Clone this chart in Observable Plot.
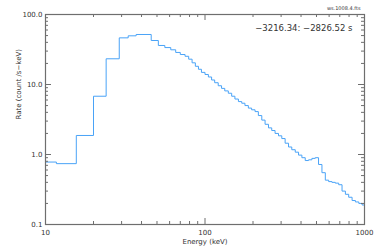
<!DOCTYPE html>
<html><head><meta charset="utf-8">
<script src="https://cdn.jsdelivr.net/npm/d3@7"></script>
<script src="https://cdn.jsdelivr.net/npm/@observablehq/plot@0.6"></script>
<style>body{margin:0;background:#fff}</style>
</head><body><div id="chart"></div>
<script>
// Bin lower edges (keV) and count rates (count /s-keV)
const energyLo = [10, 10, 11.7, 15.6, 20, 24, 29, 33, 37, 46, 51, 56, 61, 65.5, 70,
  75, 79, 83, 87, 91, 95, 100, 105, 110, 115, 121, 127, 133, 140, 147, 154, 162, 170, 178, 187, 196,
  206, 216, 227, 238, 250, 262, 275, 289, 303, 318, 334, 350, 368, 386, 405, 425, 446, 468, 491, 515,
  541, 568, 596, 625, 656, 689, 723, 759, 796, 836, 877, 921, 966];
const energyMax = 1000;
const rate = [10, 0.78, 0.74, 1.87, 6.8, 23.3, 46.4, 49.6, 51.8, 42.5, 36.1, 33.7, 31.3, 28.7, 26.8,
  25.3, 23.0, 20.4, 18.2, 16.5, 14.9, 13.9, 12.8, 11.6, 10.6, 9.6, 8.8, 8.1, 7.5, 6.8, 6.2, 5.7, 5.4, 5.0, 4.6, 4.35,
  4.1, 3.6, 3.1, 2.7, 2.4, 2.2, 2.0, 1.85, 1.69, 1.45, 1.28, 1.17, 1.08, 0.98, 0.90, 0.82, 0.84, 0.88, 0.90, 0.72,
  0.55, 0.43, 0.41, 0.40, 0.39, 0.37, 0.30, 0.27, 0.245, 0.22, 0.21, 0.20, 0.19];

const xMajor = [10, 100, 1000];
const xMinor = [20, 30, 40, 50, 60, 70, 80, 90, 200, 300, 400, 500, 600, 700, 800, 900];
const yMajor = [0.1, 1, 10, 100];
const yMinor = [0.2, 0.3, 0.4, 0.5, 0.6, 0.7, 0.8, 0.9, 2, 3, 4, 5, 6, 7, 8, 9, 20, 30, 40, 50, 60, 70, 80, 90];
const fileLabel = "ws.1008.4.fts";
const timeLabel = "\u22123216.34: \u22122826.52 s";
const xLabel = "Energy (keV)";
const yLabel = "Rate (count /s\u2212keV)";

const pts = energyLo.map((e, i) => ({e, r: rate[i]}));
pts.push({e: energyMax, r: rate[rate.length - 1]});

const W = 375, H = 250, mt = 14, mr = 11, mb = 26, ml = 45;
const ph = H - mt - mb, pw = W - ml - mr;
const axisColor = "#6e6e6e";
const lineColor = "#4aa3f7";

const chart = Plot.plot({
  width: W, height: H,
  marginTop: mt, marginRight: mr, marginBottom: mb, marginLeft: ml,
  style: {fontFamily: "DejaVu Sans, sans-serif", fontSize: "7px", color: "#333", background: "#fff"},
  x: {type: "log", domain: [10, 1000]},
  y: {type: "log", domain: [0.1, 100]},
  marks: [
    Plot.line(pts, {x: "e", y: "r", curve: "step-after", stroke: lineColor, strokeWidth: 1}),
    // inward ticks, bottom & top
    Plot.ruleX(xMajor, {x: d => d, insetTop: ph - 6, stroke: axisColor}),
    Plot.ruleX(xMajor, {x: d => d, insetBottom: ph - 6, stroke: axisColor}),
    Plot.ruleX(xMinor, {x: d => d, insetTop: ph - 3, stroke: axisColor}),
    Plot.ruleX(xMinor, {x: d => d, insetBottom: ph - 3, stroke: axisColor}),
    // inward ticks, left & right
    Plot.ruleY(yMajor, {y: d => d, insetRight: pw - 6, stroke: axisColor}),
    Plot.ruleY(yMajor, {y: d => d, insetLeft: pw - 6, stroke: axisColor}),
    Plot.ruleY(yMinor, {y: d => d, insetRight: pw - 3, stroke: axisColor}),
    Plot.ruleY(yMinor, {y: d => d, insetLeft: pw - 3, stroke: axisColor}),
    Plot.frame({stroke: axisColor, strokeWidth: 1.2}),
    Plot.axisX({ticks: xMajor, tickSize: 0, tickPadding: 6, tickFormat: d => String(d), label: null, fill: "#333"}),
    Plot.axisY({ticks: yMajor, tickSize: 0, tickPadding: 3, tickFormat: d3.format(".1f"), label: null, fill: "#333"}),
    Plot.text([xLabel], {frameAnchor: "bottom", dy: 19, text: d => d, fill: "#333"}),
    Plot.text([yLabel], {frameAnchor: "left", dx: -27, rotate: -90, text: d => d, fill: "#333"}),
    Plot.text([timeLabel], {frameAnchor: "top-right", dx: -12, dy: 10, text: d => d, textAnchor: "end", fill: "#333", fontSize: 8.5}),
    Plot.text([fileLabel], {frameAnchor: "top-right", dx: -4, dy: -8, text: d => d, textAnchor: "end", fill: "#333", fontSize: 5})
  ]
});
document.getElementById("chart").appendChild(chart);
</script>
</body></html>
